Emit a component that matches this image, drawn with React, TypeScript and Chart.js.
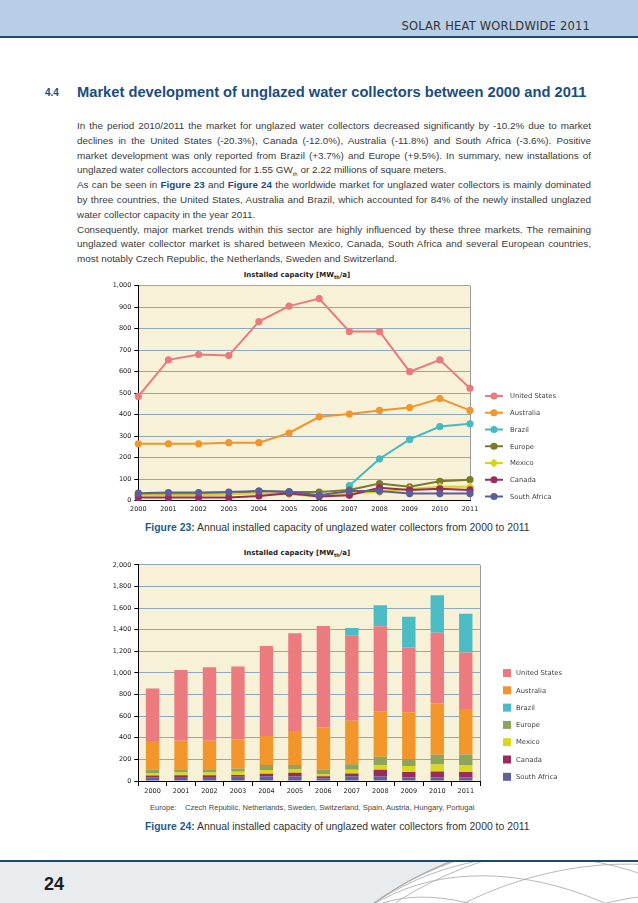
import React, { useEffect, useRef } from "react";
import { Chart, registerables } from "chart.js";
Chart.register(...registerables);

// ---------- data ----------
const years = ["2000", "2001", "2002", "2003", "2004", "2005", "2006", "2007", "2008", "2009", "2010", "2011"];
const unitedStates = [485, 655, 680, 675, 833, 905, 940, 787, 787, 600, 655, 523];
const australia = [265, 265, 265, 270, 270, 315, 390, 403, 420, 433, 475, 420];
const brazil = [null, null, null, null, null, null, null, 70, 195, 285, 345, 358];
const europe = [30, 30, 30, 30, 45, 40, 40, 50, 80, 65, 90, 98];
const mexico = [25, 25, 25, 30, 35, 30, 20, 35, 40, 55, 65, 65];
const canada = [15, 15, 15, 15, 22, 35, 20, 25, 60, 50, 55, 50];
const southAfrica = [35, 38, 38, 40, 45, 42, 25, 45, 45, 33, 33, 33];

const seriesNames = ["United States", "Australia", "Brazil", "Europe", "Mexico", "Canada", "South Africa"];
const lineAxisMax = 1000;
const lineAxisStep = 100;
const barAxisMax = 2000;
const barAxisStep = 200;

const lineColors = ["#e97a7d", "#f0962c", "#46b9c1", "#7a7a2c", "#d6d619", "#9a2b5d", "#5d5d9a"];
const barColors = ["#ec7b7f", "#f2962b", "#4bbcc4", "#8ea45d", "#d9d81d", "#9b2b5f", "#60609d"];

const FONT = "'DejaVu Sans', Verdana, sans-serif";
Chart.defaults.font.family = FONT;

const fmt = (v: number) => Number(v).toLocaleString("en-US");

const plotBg = {
  id: "plotBg",
  beforeDraw(chart: any) {
    const { ctx, chartArea } = chart;
    const { left, top, right, bottom } = chartArea;
    ctx.save();
    ctx.fillStyle = "#f7f1d8";
    ctx.fillRect(left, top, right - left, bottom - top);
    ctx.strokeStyle = "#9c9c9c";
    ctx.lineWidth = 1;
    ctx.beginPath();
    ctx.moveTo(Math.round(right) + 0.5, top);
    ctx.lineTo(Math.round(right) + 0.5, bottom);
    ctx.stroke();
    ctx.restore();
  },
};

const lineLegend = {
  id: "lineLegend",
  afterDraw(chart: any) {
    const ctx = chart.ctx;
    const x0 = 395, y0 = 130, gap = 16.75;
    ctx.save();
    chart.data.datasets.forEach((ds: any, i: number) => {
      const y = y0 + i * gap;
      ctx.strokeStyle = ds.borderColor;
      ctx.lineWidth = 2;
      ctx.beginPath();
      ctx.moveTo(x0, y);
      ctx.lineTo(x0 + 18, y);
      ctx.stroke();
      ctx.fillStyle = ds.borderColor;
      ctx.beginPath();
      if (ds.pointStyle === "rectRot") {
        ctx.moveTo(x0 + 9, y - 4.5);
        ctx.lineTo(x0 + 13.5, y);
        ctx.lineTo(x0 + 9, y + 4.5);
        ctx.lineTo(x0 + 4.5, y);
        ctx.closePath();
      } else {
        ctx.arc(x0 + 9, y, 3.6, 0, Math.PI * 2);
      }
      ctx.fill();
      ctx.fillStyle = "#444";
      ctx.font = `6.8px ${FONT}`;
      ctx.textBaseline = "middle";
      ctx.fillText(ds.label, x0 + 25, y + 0.5);
    });
    ctx.restore();
  },
};

const barLegend = {
  id: "barLegend",
  afterDraw(chart: any) {
    const ctx = chart.ctx;
    const x0 = 413, y0 = 115, gap = 17.3, size = 8;
    ctx.save();
    seriesNames.forEach((name, i) => {
      const ds = chart.data.datasets.find((d: any) => d.label === name);
      const y = y0 + i * gap;
      ctx.fillStyle = ds.backgroundColor;
      ctx.fillRect(x0, y - size / 2, size, size);
      ctx.fillStyle = "#444";
      ctx.font = `6.8px ${FONT}`;
      ctx.textBaseline = "middle";
      ctx.fillText(name, x0 + 13, y + 0.5);
    });
    ctx.restore();
  },
};

const tickFont = { family: FONT, size: 6.5 };

function LineChart() {
  const ref = useRef<HTMLCanvasElement>(null);
  useEffect(() => {
    const values = [unitedStates, australia, brazil, europe, mexico, canada, southAfrica];
    const chart = new Chart(ref.current as HTMLCanvasElement, {
      type: "line",
      data: {
        labels: years,
        datasets: values.map((v, i) => ({
          label: seriesNames[i],
          data: v,
          borderColor: lineColors[i],
          backgroundColor: lineColors[i],
          pointBackgroundColor: lineColors[i],
          pointBorderColor: lineColors[i],
          borderWidth: 2,
          pointRadius: seriesNames[i] === "Mexico" ? 4.5 : 3.6,
          pointBorderWidth: 0,
          pointStyle: seriesNames[i] === "Mexico" ? "rectRot" : "circle",
          tension: 0,
          clip: false as any,
          order: 6 - i,
        })),
      },
      options: {
        responsive: false,
        animation: false,
        events: [],
        layout: { padding: { top: 19.7, right: 150, left: 0, bottom: 0 } },
        plugins: { legend: { display: false }, tooltip: { enabled: false }, title: { display: false } },
        scales: {
          x: {
            type: "category",
            offset: false,
            grid: { display: true, drawOnChartArea: false, drawTicks: false },
            border: { display: true, color: "#000", width: 1 },
            ticks: { autoSkip: false, maxRotation: 0, padding: 5, color: "#222", font: tickFont },
            afterFit(s: any) { s.height = 19.3; },
          },
          y: {
            min: 0,
            max: lineAxisMax,
            ticks: { stepSize: lineAxisStep, padding: 3, color: "#222", font: tickFont, callback: (v: any) => fmt(v) },
            grid: { color: "#8ea8c0", lineWidth: 1, drawTicks: true, tickLength: 4, tickColor: "#000" },
            border: { display: true, color: "#000", width: 1 },
            afterFit(s: any) { s.width = 48.3; },
          },
        },
      },
      plugins: [plotBg, lineLegend],
    } as any);
    return () => chart.destroy();
  }, []);
  return <canvas ref={ref} width={530} height={254} style={{ width: 530, height: 254, display: "block" }} />;
}

function BarChart() {
  const ref = useRef<HTMLCanvasElement>(null);
  useEffect(() => {
    // stacking order: bottom to top
    const stack: [string, (number | null)[]][] = [
      ["South Africa", southAfrica],
      ["Canada", canada],
      ["Mexico", mexico],
      ["Europe", europe],
      ["Australia", australia],
      ["United States", unitedStates],
      ["Brazil", brazil],
    ];
    const chart = new Chart(ref.current as HTMLCanvasElement, {
      type: "bar",
      data: {
        labels: years,
        datasets: stack.map(([name, v]) => ({
          label: name,
          data: v,
          backgroundColor: barColors[seriesNames.indexOf(name)],
          borderWidth: 0,
          barPercentage: 0.47,
          categoryPercentage: 1,
        })),
      },
      options: {
        responsive: false,
        animation: false,
        events: [],
        layout: { padding: { top: 6, right: 140, left: 0, bottom: 0 } },
        plugins: { legend: { display: false }, tooltip: { enabled: false }, title: { display: false } },
        scales: {
          x: {
            stacked: true,
            grid: { display: true, drawOnChartArea: false, drawTicks: true, tickLength: 5, tickColor: "#000", offset: true },
            border: { display: true, color: "#000", width: 1 },
            ticks: { autoSkip: false, maxRotation: 0, padding: 1, color: "#222", font: tickFont },
            afterFit(s: any) { s.height = 17; },
          },
          y: {
            stacked: true,
            min: 0,
            max: barAxisMax,
            ticks: { stepSize: barAxisStep, padding: 3, color: "#222", font: tickFont, callback: (v: any) => fmt(v) },
            grid: { color: "#8ea8c0", lineWidth: 1, drawTicks: true, tickLength: 4, tickColor: "#000" },
            border: { display: true, color: "#000", width: 1 },
            afterFit(s: any) { s.width = 48.3; },
          },
        },
      },
      plugins: [plotBg, barLegend],
    } as any);
    return () => chart.destroy();
  }, []);
  return <canvas ref={ref} width={530} height={240} style={{ width: 530, height: 240, display: "block" }} />;
}

const BODY = "'Liberation Sans', Arial, sans-serif";
const blue = "#1b4d7e";

type Line = { html: React.ReactNode; last?: boolean };
const bodyLines: Line[] = [
  { html: "In the period 2010/2011 the market for unglazed water collectors decreased significantly by -10.2% due to market" },
  { html: "declines in the United States (-20.3%), Canada (-12.0%), Australia (-11.8%) and South Africa (-3.6%). Positive" },
  { html: "market development was only reported from Brazil (+3.7%) and Europe (+9.5%). In summary, new installations of" },
  { html: <>unglazed water collectors accounted for 1.55 GW<sub style={{ fontSize: "60%" }}>th</sub> or 2.22 millions of square meters.</>, last: true },
  { html: <>As can be seen in <b style={{ color: blue }}>Figure 23</b> and <b style={{ color: blue }}>Figure 24</b> the worldwide market for unglazed water collectors is mainly dominated</> },
  { html: "by three countries, the United States, Australia and Brazil, which accounted for 84% of the newly installed unglazed" },
  { html: "water collector capacity in the year 2011.", last: true },
  { html: "Consequently, major market trends within this sector are highly influenced by these three markets. The remaining" },
  { html: "unglazed water collector market is shared between Mexico, Canada, South Africa and several European countries," },
  { html: "most notably Czech Republic, the Netherlands, Sweden and Switzerland.", last: true },
];

function Globe() {
  const cx = 580, cy = 330, r = 355;
  const items: React.ReactNode[] = [];
  for (let k = 1; k <= 6; k++) {
    const rx = r * Math.sin((k * 15 * Math.PI) / 180);
    items.push(<ellipse key={"a" + k} cx={cx} cy={cy} rx={rx} ry={r} transform={`rotate(-40 ${cx} ${cy})`} />);
    items.push(<ellipse key={"b" + k} cx={cx} cy={cy} rx={rx} ry={r} transform={`rotate(50 ${cx} ${cy})`} />);
  }
  return (
    <svg width={638} height={41} style={{ position: "absolute", left: 0, top: 862 }} viewBox="0 0 638 41">
      <defs>
        <clipPath id="globeClip">
          <circle cx={cx} cy={cy} r={r} />
        </clipPath>
      </defs>
      <circle cx={cx} cy={cy} r={r} fill="#ffffff" stroke="#a8a8a8" strokeWidth={1} />
      <g clipPath="url(#globeClip)" stroke="#adadad" strokeWidth={0.8} fill="none">
        {items}
      </g>
    </svg>
  );
}

export default function App() {
  const lineTop = 126;
  const lineGap = 14.8;
  return (
    <div style={{ position: "absolute", left: 0, top: 0, width: 638, height: 903, background: "#fff", overflow: "hidden", fontFamily: BODY, color: "#3a3a3a" }}>
      {/* header */}
      <div style={{ position: "absolute", left: 0, top: 0, width: 638, height: 36, background: "#b7cee6", borderBottom: "2px solid #1f4a70" }} />
      <div style={{ position: "absolute", right: 48, top: 19, fontFamily: FONT, fontSize: 11.5, color: "#333", lineHeight: "14px", letterSpacing: 0.2 }}>
        SOLAR HEAT WORLDWIDE 2011
      </div>

      {/* heading */}
      <div style={{ position: "absolute", left: 45, top: 87, fontSize: 10, fontWeight: "bold", color: blue, lineHeight: "12px" }}>4.4</div>
      <div style={{ position: "absolute", left: 77, top: 83, fontSize: 14.7, fontWeight: "bold", color: blue, lineHeight: "18px", whiteSpace: "nowrap" }}>
        Market development of unglazed water collectors between 2000 and 2011
      </div>

      {/* body text */}
      {bodyLines.map((l, i) => (
        <div
          key={i}
          style={{
            position: "absolute",
            left: 77,
            width: 514,
            top: lineTop + i * lineGap - 7,
            height: 14,
            lineHeight: "14px",
            fontSize: 9.9,
            whiteSpace: "nowrap",
            textAlign: "justify",
            textAlignLast: l.last ? "left" : "justify",
            color: "#3a3a3a",
          } as any}
        >
          {l.html}
        </div>
      ))}

      {/* figure 23 */}
      <div style={{ position: "absolute", left: 90, top: 270, width: 420, textAlign: "center", fontFamily: FONT, fontSize: 7, fontWeight: "bold", color: "#222", lineHeight: "10px", paddingLeft: 0 }}>
        <span style={{ position: "relative", left: -3 }}>Installed capacity [MW<sub style={{ fontSize: "70%" }}>th</sub>/a]</span>
      </div>
      <div style={{ position: "absolute", left: 90, top: 266 }}>
        <LineChart />
      </div>
      <div style={{ position: "absolute", left: 145, top: 521, fontSize: 10.4, lineHeight: "14px", whiteSpace: "nowrap", color: "#333" }}>
        <b style={{ color: "#1d5b8c" }}>Figure 23:</b> Annual installed capacity of unglazed water collectors from 2000 to 2011
      </div>

      {/* figure 24 */}
      <div style={{ position: "absolute", left: 90, top: 548, width: 420, textAlign: "center", fontFamily: FONT, fontSize: 7, fontWeight: "bold", color: "#222", lineHeight: "10px" }}>
        <span style={{ position: "relative", left: -3 }}>Installed capacity [MW<sub style={{ fontSize: "70%" }}>th</sub>/a]</span>
      </div>
      <div style={{ position: "absolute", left: 90, top: 558 }}>
        <BarChart />
      </div>
      <div style={{ position: "absolute", left: 150, top: 803, fontSize: 7.6, lineHeight: "10px", whiteSpace: "nowrap", color: "#444" }}>
        Europe:&nbsp;&nbsp;&nbsp;&nbsp;Czech Republic, Netherlands, Sweden, Switzerland, Spain, Austria, Hungary, Portugal
      </div>
      <div style={{ position: "absolute", left: 145, top: 820, fontSize: 10.4, lineHeight: "14px", whiteSpace: "nowrap", color: "#333" }}>
        <b style={{ color: "#1d5b8c" }}>Figure 24:</b> Annual installed capacity of unglazed water collectors from 2000 to 2011
      </div>

      {/* footer */}
      <div style={{ position: "absolute", left: 0, top: 860, width: 638, height: 43, background: "#e9ecef", borderTop: "2px solid #1f4a70" }} />
      <Globe />
      <div style={{ position: "absolute", left: 44, top: 873, fontSize: 18, fontWeight: "bold", color: "#1e1e1e", lineHeight: "22px" }}>24</div>
    </div>
  );
}
